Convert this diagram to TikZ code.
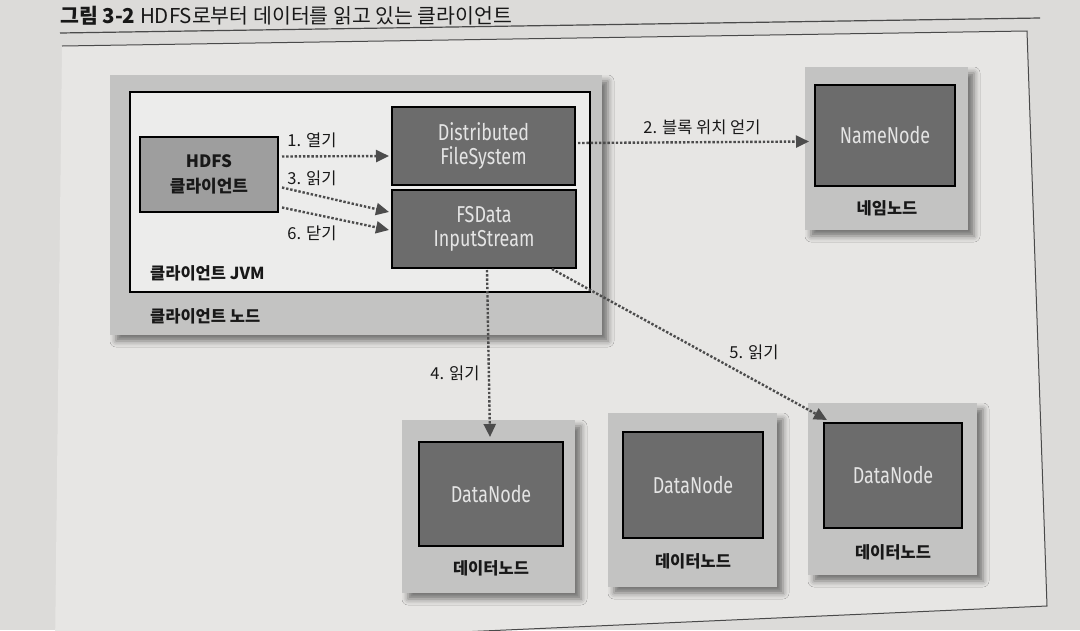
\documentclass[tikz,border=0pt]{standalone}
\usepackage{fontspec}
\setmainfont{Noto Sans CJK KR}
\newfontfamily\cond{Fira Sans}[FakeStretch=0.78]
\usetikzlibrary{arrows.meta,calc,shadows.blur}
\definecolor{pagec}{HTML}{DCDBD9}
\definecolor{innerc}{HTML}{E7E6E4}
\definecolor{framec}{HTML}{4A4A4A}
\definecolor{hostc}{HTML}{C3C3C2}
\definecolor{jvmc}{HTML}{ECECEB}
\definecolor{midc}{HTML}{9E9E9E}
\definecolor{darkc}{HTML}{6C6C6C}
\definecolor{lightt}{HTML}{E4E4E4}
\definecolor{labc}{HTML}{181818}
\definecolor{arrc}{HTML}{4C4C4C}
\tikzset{
  hostbox/.style={rectangle, fill=hostc, draw=none, inner sep=0pt,
    blur shadow={shadow xshift=6pt, shadow yshift=-6pt, shadow blur radius=6pt, shadow opacity=50}},
  jvmbox/.style={rectangle, fill=jvmc, draw=black, line width=2.2pt, inner sep=0pt},
  darkbox/.style={rectangle, fill=darkc, draw=black, line width=2pt, text=lightt,
    font=\cond\fontsize{23}{24}\selectfont, align=center, inner sep=0pt},
  hdfsbox/.style={rectangle, fill=midc, draw=black, line width=2pt, text=labc,
    font=\bfseries\fontsize{17}{25}\selectfont, align=center, inner sep=0pt},
  lbl/.style={font=\bfseries\fontsize{16.5}{18}\selectfont, text=labc, inner sep=0pt},
  steplbl/.style={font=\fontsize{16.5}{18}\selectfont, text=labc, inner sep=0pt},
  flow/.style={draw=arrc, line width=2.4pt, dash pattern=on 2.4pt off 1.8pt,
    -{Triangle[length=13pt,width=12pt,fill=arrc]}},
}
\begin{document}
\begin{tikzpicture}[x=1pt,y=-1pt]
\useasboundingbox (0,0) rectangle (1080,630);
\fill[pagec] (0,0) rectangle (1080,630);
% frame
\fill[innerc] (62,46) -- (1027,31) -- (1047,606) -- (55,650) -- cycle;
\draw[framec, line width=1pt] (62,46) -- (1027,31) -- (1047,606) -- (55,650);
\draw[framec, line width=1.2pt] (60,33) -- (1040,18);
\node[anchor=west, font=\fontsize{20.5}{22}\selectfont, text=labc, inner sep=0pt] (title) at (60,16)
  {\textbf{그림 3-2} HDFS로부터 데이터를 읽고 있는 클라이언트};

% client node
\node[hostbox, minimum width=492pt, minimum height=260pt] (cnode) at (356,205) {};
\node[jvmbox, minimum width=460pt, minimum height=200pt] (jvm) at (360,192) {};
\node[hdfsbox, minimum width=138pt, minimum height=75pt] (hdfs) at (209,174.5) {HDFS\\클라이언트};
\node[darkbox, minimum width=183pt, minimum height=78pt] (dfs) at (483.5,146) {Distributed\\FileSystem};
\node[darkbox, minimum width=184pt, minimum height=78pt] (fsd) at (484,229) {FSData\\InputStream};
\node[lbl, anchor=west] (jvmlbl) at (150,273) {클라이언트 JVM};
\node[lbl, anchor=west] (cnodelbl) at (150,316) {클라이언트 노드};

% name node
\node[hostbox, minimum width=163pt, minimum height=163pt] (nnout) at (886.5,148.5) {};
\node[darkbox, minimum width=140pt, minimum height=101pt] (nn) at (885,135.5) {NameNode};
\node[lbl] (nnlbl) at (887,208) {네임노드};

% data nodes
\node[hostbox, minimum width=173pt, minimum height=173pt] (dn1out) at (488.5,506.5) {};
\node[darkbox, minimum width=144pt, minimum height=104pt] (dn1) at (491,494) {DataNode};
\node[lbl] (dn1lbl) at (491,568) {데이터노드};

\node[hostbox, minimum width=169pt, minimum height=174pt] (dn2out) at (692.5,500) {};
\node[darkbox, minimum width=140pt, minimum height=106pt] (dn2) at (693,485) {DataNode};
\node[lbl] (dn2lbl) at (693,561) {데이터노드};

\node[hostbox, minimum width=169pt, minimum height=172pt] (dn3out) at (892.5,489) {};
\node[darkbox, minimum width=138pt, minimum height=105pt] (dn3) at (893,475.5) {DataNode};
\node[lbl] (dn3lbl) at (893,552) {데이터노드};

% connectors
\coordinate (a1s) at ($(hdfs.east)+(3,-18)$);
\coordinate (a1e) at ($(dfs.west)+(-2,10)$);
\coordinate (a3s) at ($(hdfs.east)+(3,13)$);
\coordinate (a3e) at ($(fsd.west)+(-2,-17)$);
\coordinate (a6s) at ($(hdfs.east)+(3,33)$);
\coordinate (a6e) at ($(fsd.west)+(-2,1)$);
\coordinate (a2s) at ($(dfs.east)+(2,-3)$);
\coordinate (a2e) at ($(nn.west)+(-5,6)$);
\coordinate (a4s) at ($(fsd.south)+(3,1)$);
\coordinate (a4e) at ($(dn1.north)+(-1,-4)$);
\coordinate (a5s) at ($(fsd.south east)+(-25,0)$);
\coordinate (a5e) at ($(dn3.north west)+(4,-2)$);
\draw[flow] (a1s) -- (a1e);
\draw[flow] (a3s) -- (a3e);
\draw[flow] (a6s) -- (a6e);
\draw[flow] (a2s) -- (a2e);
\draw[flow] (a4s) -- (a4e);
\draw[flow] (a5s) -- (a5e);

\node[steplbl] (l1) at (312,140) {1. 열기};
\node[steplbl] (l3) at (312,178) {3. 읽기};
\node[steplbl] (l6) at (312,233) {6. 닫기};
\node[steplbl] (l2) at (702,127) {2. 블록 위치 얻기};
\node[steplbl] (l4) at (455,373) {4. 읽기};
\node[steplbl] (l5) at (754,352) {5. 읽기};
\end{tikzpicture}
\end{document}
